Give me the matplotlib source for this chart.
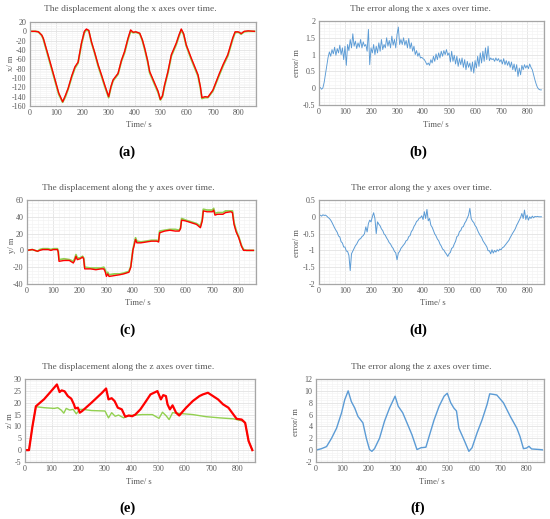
import numpy as np
import matplotlib
matplotlib.use("Agg")
import matplotlib.pyplot as plt
from matplotlib.ticker import MultipleLocator, FormatStrFormatter

plt.rcParams['font.family'] = ['Liberation Serif', 'DejaVu Serif']
plt.rcParams['axes.unicode_minus'] = False

# ---- data ----
# (a) displacement along x
t_a = [0, 20, 32, 45, 51, 70, 90, 110, 125, 135, 146, 160, 172, 184, 197, 208, 216, 225, 235,
       248, 261, 274, 286, 301, 310, 318, 337, 350, 362, 375, 385, 395, 405, 420, 430, 439, 450,
       458, 477, 490, 499, 507, 515, 528, 541, 560, 570, 579, 588, 598, 617, 630, 643, 652, 658,
       670, 681, 700, 725, 740, 757, 776, 785, 795, 801, 808, 815, 820, 835, 859]
x_red = [0, 0, -1, -8, -15, -52, -92, -132, -151, -138, -122, -95, -76, -66, -25, 0, 5, 2, -22,
         -46, -72, -94, -115, -140, -118, -104, -90, -62, -43, -15, 3, -2, -1, -4, -18, -36, -62,
         -86, -111, -128, -146, -138, -115, -86, -50, -25, -8, 5, -5, -29, -57, -75, -93, -118, -142,
         -140, -141, -126, -90, -70, -50, -14, -1, -1, -2, -5, -2, 0, 1, 0]
x_green = [0, 0, -1, -9, -17, -55, -95, -135, -152, -141, -124, -98, -79, -68, -28, -3, 3, 1, -24,
           -48, -75, -97, -118, -142, -120, -106, -92, -64, -46, -18, 0, -3, -2, -5, -20, -39, -65,
           -89, -114, -131, -147, -140, -118, -89, -53, -28, -11, 3, -7, -31, -60, -78, -96, -121, -144,
           -142, -142, -128, -93, -73, -53, -17, -3, -2, -3, -6, -3, -1, 0, 0]

# (c) displacement along y
t_c = [0, 20, 40, 48, 60, 80, 90, 100, 115, 118, 121, 140, 160, 175, 180, 185, 190, 200, 210,
       214, 218, 240, 260, 280, 290, 295, 300, 305, 310, 330, 350, 365, 375, 385, 392, 400, 410,
       415, 430, 450, 470, 490, 497, 501, 520, 540, 560, 575, 580, 584, 600, 620, 640, 655, 662,
       666, 680, 700, 705, 710, 720, 740, 750, 770, 776, 782, 790, 800, 810, 818, 830, 855]
y_red = [0, 1, -1, 0, 1, 1, 0, 1, 1, -2, -13, -12, -12, -15, -12, -7, -11, -10, -8, -10, -22,
         -22, -23, -22, -22, -25, -31, -28, -31, -30, -29, -28, -27, -26, -20, 0, 13, 9, 9, 10, 11,
         11, 10, 21, 23, 24, 23, 23, 26, 36, 35, 33, 31, 27, 35, 47, 46, 46, 48, 42, 43, 43, 45,
         46, 45, 31, 22, 15, 5, 0, 0, 0]
y_green = [0, 1, -1, 1, 2, 2, 1, 2, 2, -1, -11, -10, -11, -13, -10, -5, -9, -9, -7, -9, -20,
           -21, -21, -21, -20, -23, -28, -26, -29, -28, -28, -27, -26, -25, -19, 1, 15, 11, 10, 11, 12,
           12, 11, 23, 24, 25, 25, 24, 27, 38, 36, 34, 32, 29, 37, 49, 48, 48, 50, 44, 45, 45, 47,
           47, 47, 33, 24, 16, 6, 1, 0, 0]

# (e) displacement along z
t_e = [0, 15, 28, 41, 72, 104, 120, 130, 138, 149, 161, 174, 184, 189, 199, 206, 215, 250, 288,
       305, 314, 326, 337, 349, 364, 377, 390, 403, 415, 434, 453, 472, 498, 511, 520, 530, 536,
       545, 555, 568, 580, 606, 631, 656, 669, 688, 707, 726, 745, 765, 784, 796, 815, 828, 841, 855]
z_red = [0, 0, 10, 18.5, 21.5, 25.6, 27.7, 24.5, 25.2, 24.8, 22.8, 21.7, 19.3, 17.6, 17.9, 15.8,
         16.5, 20, 24, 26, 21.4, 21.9, 20.7, 17.9, 17.2, 14.1, 14.6, 14.3, 15, 17.2, 20.3, 23.5, 24.9,
         21.4, 23.2, 22.8, 19.3, 17.2, 18.9, 15.8, 14.6, 17.9, 20.7, 22.8, 23.5, 24.2, 22.8, 21.4,
         19.3, 17.9, 15, 13.2, 12.9, 11.5, 3.8, 0]
t_eg = [0, 15, 28, 41, 72, 110, 123, 136, 146, 155, 168, 181, 193, 206, 218, 250, 301, 314, 326,
        339, 352, 371, 390, 441, 479, 504, 517, 530, 542, 555, 580, 631, 682, 733, 784, 822, 828,
        841, 855]
z_green = [0, 0, 10, 18.3, 17.9, 17.6, 17.9, 16.9, 15.6, 17.6, 16.9, 17.2, 15.3, 17.2, 17.2, 16.7,
           16.5, 13.6, 15.8, 14.3, 14.8, 13.6, 14.6, 15, 15, 13.4, 16, 14.6, 12.9, 15.8, 15.5, 15,
           14.1, 13.6, 13.2, 12.2, 11.5, 3.8, 0]

# (f) error along z
t_f = [0, 21, 40, 59, 78, 97, 109, 122, 134, 147, 159, 178, 191, 203, 212, 222, 241, 260, 279,
       300, 312, 329, 348, 364, 383, 398, 417, 429, 448, 467, 486, 498, 511, 523, 533, 542, 561,
       580, 592, 611, 630, 649, 659, 674, 686, 711, 737, 762, 774, 787, 799, 808, 818, 849, 859]
err_z = [0, 0.25, 0.6, 2, 3.7, 6.3, 8.5, 10, 8.2, 7.1, 5.7, 4.6, 2, 0.1, -0.2, 0.25, 2, 4.9, 7.1,
         9.1, 7.4, 6.3, 4.3, 2.6, 0.1, 0.4, 0.5, 2.3, 5.1, 7.4, 9.1, 9.6, 8, 7.1, 6.6, 3.7, 1.8,
         -0.2, 0.4, 2.9, 5.1, 7.7, 9.5, 9.4, 9.3, 8, 5.7, 3.7, 2.3, 0.25, 0.35, 0.65, 0.2, 0.1, 0.05]

# (b) error along x, sampled every 5 s
err_x = [0.05, 0.02, -0.03, 0.01, 0.18, 0.42, 0.66, 0.92, 1.08, 0.95, 1.15, 1.02, 1.22, 0.98,
         1.18, 1.05, 1.28, 1.0, 1.2, 0.85, 1.25, 0.68, 1.3, 1.12, 1.45, 1.2, 1.62, 1.25, 1.4, 1.18,
         1.35, 1.22, 1.45, 1.2, 1.38, 1.25, 1.3, 1.1, 1.75, 0.7, 1.2, 1.05, 1.3, 1.0, 1.25, 1.05,
         1.35, 1.1, 1.45, 1.15, 1.3, 1.2, 1.5, 1.25, 1.42, 1.2, 1.55, 1.28, 1.45, 1.2, 1.6, 1.82,
         1.3, 1.45, 1.3, 1.5, 1.28, 1.42, 1.2, 1.48, 1.18, 1.35, 1.1, 1.25, 1.0, 1.12, 0.95, 1.05,
         0.9, 0.92, 0.88, 0.85, 0.78, 0.7, 0.75, 0.68, 0.85, 0.75, 0.95, 0.8, 1.02, 0.85, 1.05, 0.9,
         1.1, 0.95, 1.12, 1.0, 1.15, 0.98, 1.05, 0.78, 1.1, 0.8, 0.98, 0.72, 0.95, 0.65, 0.88, 0.7,
         0.9, 0.62, 0.85, 0.55, 0.8, 0.62, 0.75, 0.5, 0.78, 0.45, 0.82, 0.6, 0.95, 0.65, 1.05, 0.75,
         1.1, 0.8, 1.2, 0.85, 1.25, 0.82, 0.9, 0.85, 0.88, 0.8, 0.9, 0.82, 0.88, 0.78, 0.85, 0.72,
         0.88, 0.7, 0.82, 0.68, 0.8, 0.62, 0.78, 0.55, 0.72, 0.5, 0.7, 0.35, 0.6, 0.4, 0.68, 0.55,
         0.7, 0.6, 0.68, 0.58, 0.72, 0.62, 0.55, 0.4, 0.25, 0.12, 0.02, -0.03, -0.05, -0.05]

# (d) error along y, sampled every 5 s
err_y = [0.03, 0.05, 0.02, 0.06, 0.04, 0.05, 0.02, -0.02, -0.05, -0.1, -0.17, -0.25, -0.33, -0.4,
         -0.46, -0.57, -0.6, -0.74, -0.78, -0.9, -0.9, -1.02, -1.03, -1.15, -1.6, -1.1, -1.02, -0.94,
         -0.86, -0.81, -0.73, -0.67, -0.65, -0.59, -0.56, -0.5, -0.3, -0.45, -0.2, -0.1, -0.15, 0.0,
         0.12, -0.05, -0.5, -0.15, -0.22, -0.27, -0.36, -0.41, -0.51, -0.55, -0.63, -0.69, -0.77,
         -0.81, -0.89, -0.94, -1.03, -1.07, -1.28, -1.08, -1.03, -0.94, -0.89, -0.84, -0.79, -0.71,
         -0.69, -0.59, -0.56, -0.44, -0.39, -0.29, -0.23, -0.14, -0.11, -0.04, -0.03, 0.03, -0.08,
         0.15, -0.05, 0.22, -0.12, -0.05, -0.25, -0.31, -0.41, -0.51, -0.57, -0.66, -0.71, -0.81,
         -0.87, -0.96, -0.99, -1.06, -1.11, -1.18, -1.1, -1.06, -0.94, -0.91, -0.81, -0.73, -0.59,
         -0.56, -0.44, -0.41, -0.31, -0.29, -0.19, -0.13, -0.04, 0.05, 0.25, -0.05, -0.13, -0.17,
         -0.26, -0.31, -0.41, -0.49, -0.56, -0.61, -0.71, -0.77, -0.83, -0.89, -1.01, -1.01, -1.1,
         -0.98, -1.08, -1.0, -1.05, -0.98, -1.02, -0.96, -0.98, -0.92, -0.9, -0.85, -0.8, -0.75, -0.7,
         -0.62, -0.55, -0.48, -0.42, -0.35, -0.25, -0.18, -0.1, -0.02, 0.1, -0.05, 0.2, -0.08, 0.05,
         -0.1, 0.0, -0.05, 0.02, -0.03, 0.01, 0.0, 0.01, 0.0, 0.0, 0.0]

t_err = np.arange(len(err_x)) * 5
t_erry = np.arange(len(err_y)) * 5

# ---- figure ----
W, H = 550, 519
fig = plt.figure(figsize=(W / 100, H / 100), dpi=100)

GRAY = '#595959'
RED = '#FF0000'
GREEN = '#92D050'
BLUE = '#5B9BD5'


def rect(l, r, t, b):
    return [l / W, 1 - b / H, (r - l) / W, (b - t) / H]


def style(ax, ymin, ymax, ystep):
    ax.set_xlim(0, 865)
    ax.set_ylim(ymin, ymax)
    ax.xaxis.set_major_locator(MultipleLocator(100))
    ax.xaxis.set_minor_locator(MultipleLocator(20))
    ax.yaxis.set_major_locator(MultipleLocator(ystep))
    ax.yaxis.set_minor_locator(MultipleLocator(ystep / 5))
    ax.grid(which='major', color='#E3E3E3', linewidth=0.6)
    ax.grid(which='minor', color='#F4F4F4', linewidth=0.5)
    ax.set_axisbelow(True)
    ax.tick_params(which='both', length=0, labelsize=5.8, labelcolor=GRAY, pad=2.5)
    for s in ax.spines.values():
        s.set_color('#A6A6A6')
        s.set_linewidth(0.9)


def labels(title, tx, ty, ylab, yx, yy, xx, xy, panel, px, py):
    fig.text(tx / W, 1 - ty / H, title, ha='center', va='center', fontsize=6.8, color=GRAY)
    fig.text(yx / W, 1 - yy / H, ylab, ha='center', va='center', rotation=90,
             fontsize=6.2, color=GRAY)
    fig.text(xx / W, 1 - xy / H, 'Time/ s', ha='center', va='center', fontsize=6.2, color=GRAY)
    fig.text(px / W, 1 - py / H, panel, ha='center', va='center', fontsize=10.5,
             fontweight='bold', color='black')


# (a)
ax = fig.add_axes(rect(30, 256, 22, 106))
style(ax, -160, 20, 20)
ax.yaxis.set_major_formatter(FormatStrFormatter('%d'))
ax.plot(t_a, x_green, color=GREEN, lw=1.3)
ax.plot(t_a, x_red, color=RED, lw=1.0)
labels('The displacement along the x axes over time.', 130, 9, 'x/ m', 11, 63,
       139, 125, '(a)', 127, 152)

# (b)
ax = fig.add_axes(rect(319, 544, 21, 105))
style(ax, -0.5, 2, 0.5)
ax.yaxis.set_major_formatter(FormatStrFormatter('%g'))
ax.plot(t_err, err_x, color=BLUE, lw=0.65)
labels('The error along the x axes over time.', 420, 9, 'error/ m', 297, 63,
       436, 125, '(b)', 418, 152)

# (c)
ax = fig.add_axes(rect(27, 256, 200, 284))
style(ax, -40, 60, 20)
ax.yaxis.set_major_formatter(FormatStrFormatter('%d'))
ax.plot(t_c, y_green, color=GREEN, lw=1.3)
ax.plot(t_c, y_red, color=RED, lw=1.0)
labels('The displacement along the y axes over time.', 128, 188, 'y/ m', 12, 245,
       138, 303, '(c)', 127, 330)

# (d)
ax = fig.add_axes(rect(319, 544, 200, 284))
style(ax, -2, 0.5, 0.5)
ax.yaxis.set_major_formatter(FormatStrFormatter('%g'))
ax.plot(t_erry, err_y, color=BLUE, lw=0.7)
labels('The error along the y axes over time.', 421, 188, 'error/ m', 297, 243,
       433, 303, '(d)', 418, 330)

# (e)
ax = fig.add_axes(rect(25, 255, 379, 462))
style(ax, -5, 30, 5)
ax.yaxis.set_major_formatter(FormatStrFormatter('%d'))
ax.plot(t_eg, z_green, color=GREEN, lw=1.0)
ax.plot(t_e, z_red, color=RED, lw=1.6)
labels('The displacement along the z axes over time.', 128, 367, 'z/ m', 10, 421,
       139, 482, '(e)', 127, 508)

# (f)
ax = fig.add_axes(rect(316, 544, 379, 462))
style(ax, -2, 12, 2)
ax.yaxis.set_major_formatter(FormatStrFormatter('%d'))
ax.plot(t_f, err_z, color=BLUE, lw=1.0)
labels('The error along the z axes over time.', 421, 367, 'error/ m', 296, 422,
       432, 482, '(f)', 418, 508)

fig.savefig('out.png', dpi=100, facecolor='white')
